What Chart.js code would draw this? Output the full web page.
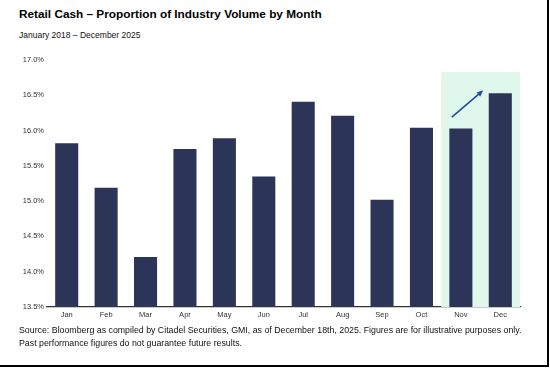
<!DOCTYPE html>
<html>
<head>
<meta charset="utf-8">
<script src="https://cdn.jsdelivr.net/npm/chart.js@4.4.1/dist/chart.umd.min.js"></script>
<style>
  body { margin: 0; background: #fff; font-family: "Liberation Sans", Arial, sans-serif; }
  #frame { position: absolute; left: 0; top: 0; width: 547px; height: 365px; border-right: 2px solid #000; border-bottom: 2px solid #000; }
  #title { position: absolute; left: 19px; top: 7px; font-size: 11.8px; font-weight: bold; color: #000; white-space: nowrap; }
  #subtitle { position: absolute; left: 19px; top: 30px; font-size: 8.5px; color: #111; white-space: nowrap; }
  #chartBox { position: absolute; left: 0; top: 50px; width: 540px; height: 275px; }
  #footer { position: absolute; left: 19px; top: 324px; font-size: 8.8px; line-height: 13px; color: #111; white-space: nowrap; }
</style>
</head>
<body>
<div id="frame"></div>
<div id="title">Retail Cash – Proportion of Industry Volume by Month</div>
<div id="subtitle">January 2018 – December 2025</div>
<div id="chartBox"><canvas id="barChart"></canvas></div>
<div id="footer">Source: Bloomberg as compiled by Citadel Securities, GMI, as of December 18th, 2025. Figures are for illustrative purposes only.<br>Past performance figures do not guarantee future results.</div>
<script>
const months = ["Jan", "Feb", "Mar", "Apr", "May", "Jun", "Jul", "Aug", "Sep", "Oct", "Nov", "Dec"];
const retailShare = [15.82, 15.19, 14.21, 15.74, 15.89, 15.35, 16.41, 16.21, 15.02, 16.04, 16.03, 16.53];
const yTicks = [13.5, 14.0, 14.5, 15.0, 15.5, 16.0, 16.5, 17.0];
const highlightMonths = ["Nov", "Dec"];
const highlightTop = 16.83;
// arrow from / to in (category index, value)
const arrowFrom = [9.77, 16.19];
const arrowTo = [10.57, 16.57];

const highlightPlugin = {
  id: "highlight",
  beforeDatasetsDraw(chart) {
    const { ctx, scales: { x, y } } = chart;
    const i0 = months.indexOf(highlightMonths[0]);
    const i1 = months.indexOf(highlightMonths[highlightMonths.length - 1]);
    const left = x.getPixelForValue(i0 - 0.5);
    const right = x.getPixelForValue(i1 + 0.5);
    const top = y.getPixelForValue(highlightTop);
    const bottom = y.getPixelForValue(yTicks[0]);
    ctx.save();
    ctx.fillStyle = "#e0f7eb";
    ctx.fillRect(left, top, right - left, bottom - top);
    ctx.restore();
  },
  afterDatasetsDraw(chart) {
    const { ctx, scales: { x, y } } = chart;
    const x1 = x.getPixelForValue(arrowFrom[0]), y1 = y.getPixelForValue(arrowFrom[1]);
    const x2 = x.getPixelForValue(arrowTo[0]), y2 = y.getPixelForValue(arrowTo[1]);
    const ang = Math.atan2(y2 - y1, x2 - x1);
    const head = 7;
    ctx.save();
    ctx.strokeStyle = "#1f4d9e";
    ctx.fillStyle = "#1f4d9e";
    ctx.lineWidth = 1.6;
    ctx.beginPath();
    ctx.moveTo(x1, y1);
    ctx.lineTo(x2 - Math.cos(ang) * head * 0.8, y2 - Math.sin(ang) * head * 0.8);
    ctx.stroke();
    ctx.beginPath();
    ctx.moveTo(x2, y2);
    ctx.lineTo(x2 - head * Math.cos(ang - 0.4), y2 - head * Math.sin(ang - 0.4));
    ctx.lineTo(x2 - head * Math.cos(ang + 0.4), y2 - head * Math.sin(ang + 0.4));
    ctx.closePath();
    ctx.fill();
    ctx.restore();
  }
};

const ctx = document.getElementById("barChart").getContext("2d");
const barChart = new Chart(ctx, {
  type: "bar",
  data: {
    labels: months,
    datasets: [{
      data: retailShare,
      backgroundColor: "#2c3557",
      borderWidth: 0,
      categoryPercentage: 1,
      barPercentage: 0.585
    }]
  },
  options: {
    responsive: true,
    maintainAspectRatio: false,
    animation: false,
    layout: { padding: { left: 0, right: 20, top: 10, bottom: 0 } },
    plugins: { legend: { display: false }, tooltip: { enabled: false } },
    scales: {
      x: {
        grid: { display: false, drawTicks: false },
        border: { display: true, color: "#333", width: 1.2 },
        ticks: { color: "#333", font: { size: 7.5, family: "'Liberation Sans', Arial" }, padding: 3, maxRotation: 0 },
        afterFit(scale) { scale.height = 18; }
      },
      y: {
        min: 13.5,
        max: 17,
        afterBuildTicks(scale) { scale.ticks = yTicks.map(v => ({ value: v })); },
        grid: { display: false, drawTicks: false },
        border: { display: false },
        ticks: {
          color: "#333",
          font: { size: 7.5, family: "'Liberation Sans', Arial" },
          padding: 3,
          callback: v => v.toFixed(1) + "%"
        },
        afterFit(scale) { scale.width = 47; }
      }
    }
  },
  plugins: [highlightPlugin]
});
</script>
</body>
</html>
